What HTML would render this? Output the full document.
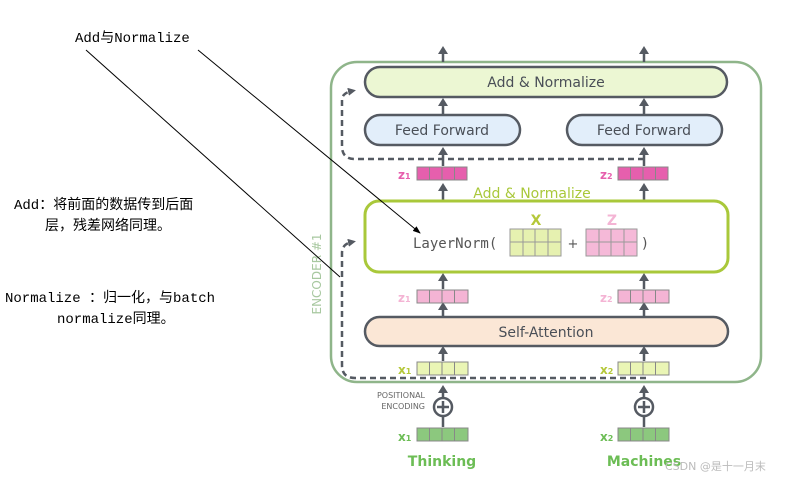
<!DOCTYPE html>
<html><head><meta charset="utf-8"><style>
html,body{margin:0;padding:0;background:#fff;}
svg{display:block;}
.s{font-family:"DejaVu Sans","Liberation Sans",sans-serif;}
.c{font-family:"Liberation Mono","Noto Sans CJK SC",monospace;font-size:14px;fill:#000;}
</style></head><body>
<svg width="807" height="483" viewBox="0 0 807 483" xmlns="http://www.w3.org/2000/svg">
<defs>
<marker id="ah" markerWidth="8" markerHeight="8" refX="4" refY="4" orient="auto" markerUnits="userSpaceOnUse">
<path d="M0,0 L8,4 L0,8 z" fill="#555a62"/></marker>
<marker id="ab" markerWidth="8" markerHeight="8" refX="7" refY="4" orient="auto" markerUnits="userSpaceOnUse">
<path d="M0,1 L8,4 L0,7 z" fill="#000"/></marker>
</defs>
<g fill="none" stroke="#555a62" stroke-width="3">
<rect x="331" y="62" width="430" height="320" rx="26" stroke="#8fb58a" stroke-width="2.5"/>
<g stroke-width="2.5">
<line x1="443" y1="62" x2="443" y2="52"/><line x1="644" y1="62" x2="644" y2="52"/>
<line x1="443" y1="114" x2="443" y2="104"/><line x1="644" y1="114" x2="644" y2="104"/>
<line x1="443" y1="166" x2="443" y2="153"/><line x1="644" y1="166" x2="644" y2="153"/>
<line x1="443" y1="200" x2="443" y2="189"/><line x1="644" y1="200" x2="644" y2="189"/>
<line x1="443" y1="289" x2="443" y2="279"/><line x1="644" y1="289" x2="644" y2="279"/>
<line x1="443" y1="316" x2="443" y2="308"/><line x1="644" y1="316" x2="644" y2="308"/>
<line x1="443" y1="361" x2="443" y2="352"/><line x1="644" y1="361" x2="644" y2="352"/>
<line x1="443" y1="398" x2="443" y2="390"/><line x1="644" y1="398" x2="644" y2="390"/>
<line x1="443" y1="427" x2="443" y2="416"/><line x1="644" y1="427" x2="644" y2="416"/>
</g>
<path d="M644,159 L355,159 Q342,159 342,146 L342,100 Q342,93 352,91" stroke-dasharray="6,4" stroke-width="2.5" marker-end="url(#ah)"/>
<path d="M646,378 L355,378 Q342,378 342,365 L342,253 Q342,244 352,242" stroke-dasharray="6,4" stroke-width="2.5" marker-end="url(#ah)"/>
</g>
<g fill="#555a62">
<path d="M438,54 L443,46 L448,54z"/><path d="M639,54 L644,46 L649,54z"/>
<path d="M438,106 L443,98 L448,106z"/><path d="M639,106 L644,98 L649,106z"/>
<path d="M438,155 L443,147 L448,155z"/><path d="M639,155 L644,147 L649,155z"/>
<path d="M438,191 L443,183 L448,191z"/><path d="M639,191 L644,183 L649,191z"/>
<path d="M438,281 L443,273 L448,281z"/><path d="M639,281 L644,273 L649,281z"/>
<path d="M438,310 L443,302 L448,310z"/><path d="M639,310 L644,302 L649,310z"/>
<path d="M438,354 L443,346 L448,354z"/><path d="M639,354 L644,346 L649,354z"/>
<path d="M438,393 L443,385 L448,393z"/><path d="M639,393 L644,385 L649,393z"/>
</g>
<rect x="365" y="67" width="362" height="30" rx="15" fill="#ecf7d3" stroke="#555a62" stroke-width="2.5"/>
<rect x="365" y="115" width="155" height="30" rx="15" fill="#e2eefa" stroke="#555a62" stroke-width="2.5"/>
<rect x="567" y="115" width="155" height="30" rx="15" fill="#e2eefa" stroke="#555a62" stroke-width="2.5"/>
<rect x="365" y="201" width="363" height="71" rx="14" fill="#fff" stroke="#a9c83a" stroke-width="3"/>
<rect x="365" y="317" width="363" height="29" rx="14.5" fill="#fbe7d6" stroke="#555a62" stroke-width="2.5"/>
<g class="s" font-size="14" fill="#4a4f57" text-anchor="middle">
<text x="546" y="87">Add &amp; Normalize</text>
<text x="442" y="135">Feed Forward</text>
<text x="644" y="135">Feed Forward</text>
<text x="546" y="337">Self-Attention</text>
</g>
<text x="532" y="198" class="s" font-size="14" fill="#a9c83a" text-anchor="middle">Add &amp; Normalize</text>
<text x="413" y="248" font-family="DejaVu Sans Mono,Liberation Mono,monospace" font-size="14" fill="#555">LayerNorm(</text>
<text x="573" y="248" class="s" font-size="13" fill="#555" text-anchor="middle">+</text>
<text x="642" y="248" class="s" font-size="14" fill="#555">)</text>
<text x="536" y="225" class="s" font-size="14" font-weight="bold" fill="#b5c83a" text-anchor="middle">X</text>
<text x="612" y="225" class="s" font-size="14" font-weight="bold" fill="#f4b4d4" text-anchor="middle">Z</text>
<g stroke="#999" stroke-width="1">
<rect x="510" y="229" width="51" height="27" fill="#e6f1b0"/>
<line x1="523" y1="229" x2="523" y2="256"/><line x1="535" y1="229" x2="535" y2="256"/><line x1="548" y1="229" x2="548" y2="256"/><line x1="510" y1="242" x2="561" y2="242"/>
<rect x="586" y="229" width="51" height="27" fill="#f5b9d8"/>
<line x1="599" y1="229" x2="599" y2="256"/><line x1="611" y1="229" x2="611" y2="256"/><line x1="624" y1="229" x2="624" y2="256"/><line x1="586" y1="242" x2="637" y2="242"/>
</g>
<g stroke="#888" stroke-width="1">
<g fill="#e65fad"><rect x="417" y="167" width="50" height="13"/><rect x="618" y="167" width="50" height="13"/></g>
<g fill="#f4b4d4"><rect x="417" y="290" width="51" height="13"/><rect x="618" y="290" width="51" height="13"/></g>
<g fill="#eaf5b5"><rect x="417" y="362" width="51" height="13"/><rect x="618" y="362" width="51" height="13"/></g>
<g fill="#8cc87e"><rect x="417" y="428" width="51" height="13"/><rect x="618" y="428" width="51" height="13"/></g>
<path d="M429.5,167v13M442,167v13M454.5,167v13M630.5,167v13M643,167v13M655.5,167v13
M429.5,290v13M442,290v13M454.5,290v13M630.5,290v13M643,290v13M655.5,290v13
M429.5,362v13M442,362v13M454.5,362v13M630.5,362v13M643,362v13M655.5,362v13
M429.5,428v13M442,428v13M454.5,428v13M630.5,428v13M643,428v13M655.5,428v13"/>
</g>
<g class="s" font-size="12" font-weight="bold">
<text x="398" y="179" fill="#e65fad">z<tspan font-size="8">1</tspan></text>
<text x="600" y="179" fill="#e65fad">z<tspan font-size="8">2</tspan></text>
<text x="398" y="302" fill="#f4b4d4">z<tspan font-size="8">1</tspan></text>
<text x="600" y="302" fill="#f4b4d4">z<tspan font-size="8">2</tspan></text>
<text x="398" y="374" fill="#b5c83a">x<tspan font-size="8">1</tspan></text>
<text x="600" y="374" fill="#b5c83a">x<tspan font-size="8">2</tspan></text>
<text x="398" y="441" fill="#6cbd55">x<tspan font-size="8">1</tspan></text>
<text x="600" y="441" fill="#6cbd55">x<tspan font-size="8">2</tspan></text>
</g>
<g fill="#fff" stroke="#555a62" stroke-width="2.5">
<circle cx="443" cy="407" r="9"/><circle cx="644" cy="407" r="9"/>
</g>
<path d="M437,407h12M443,401v12M638,407h12M644,401v12" stroke="#555a62" stroke-width="2.5"/>
<text x="425" y="398" class="s" font-size="8" fill="#666" text-anchor="end">POSITIONAL</text>
<text x="425" y="409" class="s" font-size="8" fill="#666" text-anchor="end">ENCODING</text>
<text x="442" y="466" class="s" font-size="14" font-weight="bold" fill="#6cbd55" text-anchor="middle">Thinking</text>
<text x="644" y="466" class="s" font-size="14" font-weight="bold" fill="#6cbd55" text-anchor="middle">Machines</text>
<text x="665" y="470" class="s" font-size="11" fill="#bbb">CSDN @是十一月末</text>
<text transform="translate(321,274) rotate(-90)" class="s" font-size="12" fill="#a8c8a0" text-anchor="middle">ENCODER #1</text>
<line x1="86" y1="50" x2="340" y2="277" stroke="#000" stroke-width="1"/>
<line x1="198" y1="50" x2="420" y2="233" stroke="#000" stroke-width="1" marker-end="url(#ab)"/>
<text x="75" y="42" class="c">Add与Normalize</text>
<text x="14" y="209" class="c">Add：将前面的数据传到后面</text>
<text x="45" y="230" class="c">层，残差网络同理。</text>
<text x="5" y="302" class="c">Normalize ：归一化，与batch</text>
<text x="57" y="323" class="c">normalize同理。</text>
</svg>
</body></html>
